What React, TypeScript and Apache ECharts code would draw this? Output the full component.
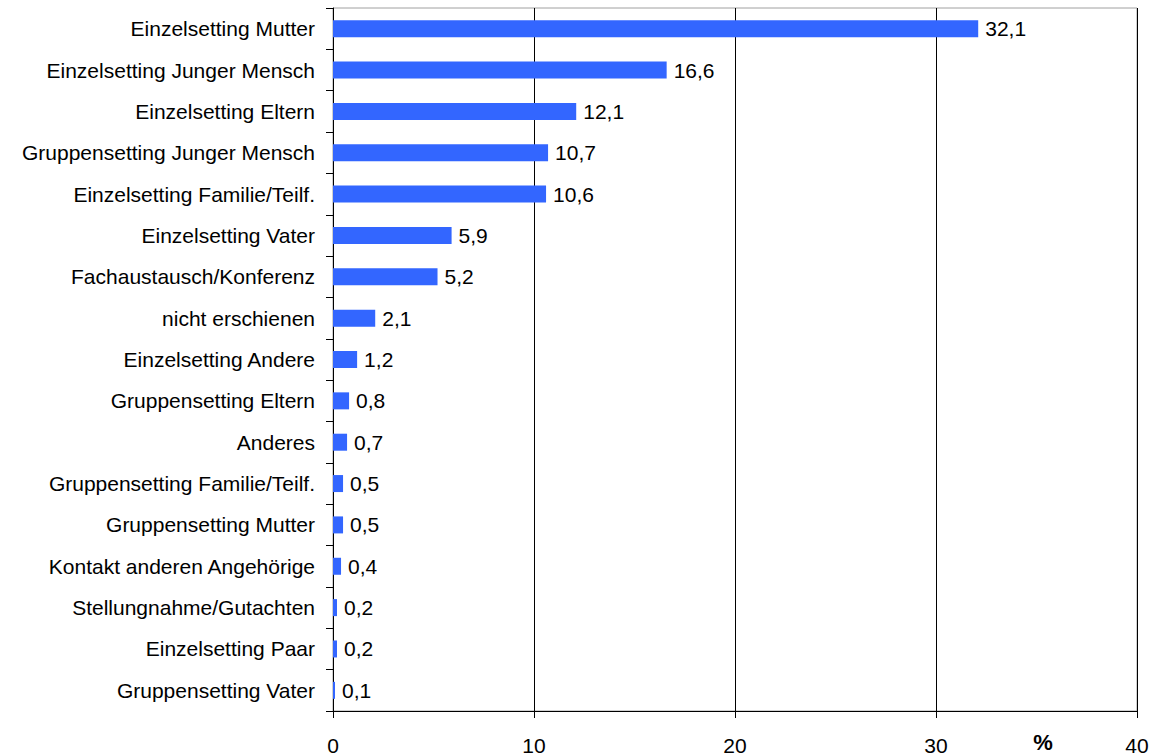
import React, { useEffect, useRef } from "react";
import * as echarts from "echarts";

const categories = [
  "Einzelsetting Mutter",
  "Einzelsetting Junger Mensch",
  "Einzelsetting Eltern",
  "Gruppensetting Junger Mensch",
  "Einzelsetting Familie/Teilf.",
  "Einzelsetting Vater",
  "Fachaustausch/Konferenz",
  "nicht erschienen",
  "Einzelsetting Andere",
  "Gruppensetting Eltern",
  "Anderes",
  "Gruppensetting Familie/Teilf.",
  "Gruppensetting Mutter",
  "Kontakt anderen Angehörige",
  "Stellungnahme/Gutachten",
  "Einzelsetting Paar",
  "Gruppensetting Vater",
];

const values = [32.1, 16.6, 12.1, 10.7, 10.6, 5.9, 5.2, 2.1, 1.2, 0.8, 0.7, 0.5, 0.5, 0.4, 0.2, 0.2, 0.1];

const axisUnit = "%";
const FONT = "'Liberation Sans', Arial, sans-serif";

export default function App() {
  const ref = useRef<HTMLDivElement>(null);
  useEffect(() => {
    if (!ref.current) return;
    const chart = echarts.init(ref.current, null, { renderer: "svg" });
    chart.setOption({
      animation: false,
      backgroundColor: "#ffffff",
      textStyle: { fontFamily: FONT },
      grid: {
        left: 333,
        right: 19,
        top: 8,
        bottom: 45,
        show: true,
        borderColor: "#a0a0a0",
        borderWidth: 1,
        containLabel: false,
      },
      xAxis: {
        type: "value",
        min: 0,
        max: 40,
        interval: 10,
        axisLine: { show: true, lineStyle: { color: "#000", width: 1 } },
        axisTick: { show: true, length: 7, lineStyle: { color: "#000" } },
        axisLabel: {
          color: "#000",
          fontSize: 21,
          fontFamily: FONT,
          margin: 24,
          formatter: (v: number) => String(v),
        },
        splitLine: { show: true, lineStyle: { color: "#000", width: 1 } },
      },
      yAxis: {
        type: "category",
        data: categories,
        inverse: true,
        axisLine: { show: true, lineStyle: { color: "#000", width: 1 } },
        axisTick: { show: true, length: 7, lineStyle: { color: "#000" } },
        axisLabel: { color: "#000", fontSize: 21, fontFamily: FONT, margin: 18 },
        splitLine: { show: false },
      },
      graphic: [
        {
          type: "text",
          x: 1043,
          y: 742,
          style: {
            text: axisUnit,
            fontSize: 22,
            fontWeight: "bold",
            fontFamily: FONT,
            fill: "#000",
            textAlign: "center",
            textVerticalAlign: "middle",
          },
        },
      ],
      series: [
        {
          type: "bar",
          data: values,
          barWidth: 17,
          itemStyle: { color: "#3366FF" },
          label: {
            show: true,
            position: "right",
            distance: 7,
            color: "#000",
            fontSize: 21,
            fontFamily: FONT,
            formatter: (p: any) => String(p.value).replace(".", ","),
          },
        },
      ],
    });
    return () => chart.dispose();
  }, []);
  return (
    <div
      ref={ref}
      style={{ position: "fixed", left: 0, top: 0, width: 1156, height: 756, background: "#fff" }}
    />
  );
}
